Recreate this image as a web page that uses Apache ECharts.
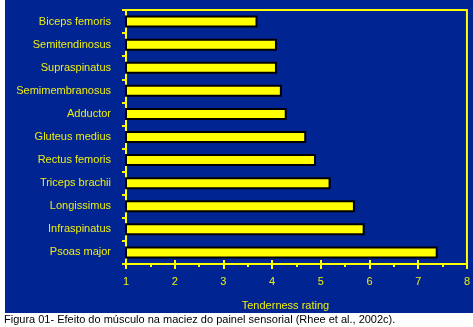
<!DOCTYPE html>
<html>
<head>
<meta charset="utf-8">
<script src="https://cdn.jsdelivr.net/npm/echarts@6/dist/echarts.min.js"></script>
<style>html,body{margin:0;padding:0;background:#fff;}#c{width:473px;height:327px;}</style>
</head>
<body>
<div id="c"></div>
<script>
const categories = ['Biceps femoris','Semitendinosus','Supraspinatus','Semimembranosus','Adductor','Gluteus medius','Rectus femoris','Triceps brachii','Longissimus','Infraspinatus','Psoas major'];
const ratings = [3.7, 4.1, 4.1, 4.2, 4.3, 4.7, 4.9, 5.2, 5.7, 5.9, 7.4];
const xTicks = [1, 2, 3, 4, 5, 6, 7, 8];
const axisName = 'Tenderness rating';
const caption = 'Figura 01- Efeito do músculo na maciez do painel sensorial (Rhee et al., 2002c).';

const YEL = '#ffff00', TXT = '#eeee10', BLUE = '#002491';
const chart = echarts.init(document.getElementById('c'), null, {renderer: 'canvas'});
chart.setOption({
  backgroundColor: '#ffffff',
  animation: false,
  graphic: [{type: 'rect', shape: {x: 5, y: 0, width: 468, height: 313}, style: {fill: BLUE}, z: -10, silent: true}],
  title: {text: caption, left: 4, top: 314, padding: 0,
    textStyle: {fontFamily: 'Liberation Sans', fontSize: 11, fontWeight: 'normal', color: '#000'}},
  grid: {left: 126, right: 4, top: 10, bottom: 63, show: true, borderColor: YEL, borderWidth: 2, backgroundColor: 'transparent'},
  xAxis: [{
    type: 'value', min: xTicks[0], max: xTicks[xTicks.length - 1], interval: 1,
    axisLine: {show: true, lineStyle: {color: YEL, width: 2}},
    axisTick: {show: true, length: 5, lineStyle: {color: YEL, width: 2}},
    minorTick: {show: true, splitNumber: 2, length: 3, lineStyle: {color: YEL, width: 2}},
    splitLine: {show: false},
    axisLabel: {color: TXT, fontFamily: 'Liberation Sans', fontSize: 11, margin: 12},
    name: axisName, nameLocation: 'middle', nameGap: 36,
    nameTextStyle: {color: TXT, fontFamily: 'Liberation Sans', fontSize: 11, padding: [0, 22, 0, 0]}
  }, {
    type: 'value', position: 'bottom', min: xTicks[0], max: xTicks[xTicks.length - 1], interval: 1,
    axisLine: {show: false},
    axisTick: {show: true, inside: true, length: 4, lineStyle: {color: YEL, width: 2}},
    splitLine: {show: false}, axisLabel: {show: false}
  }],
  yAxis: {
    type: 'category', data: categories, inverse: true,
    axisLine: {show: true, lineStyle: {color: YEL, width: 2}},
    axisTick: {show: true, length: 4, lineStyle: {color: YEL, width: 2}},
    axisLabel: {color: TXT, fontFamily: 'Liberation Sans', fontSize: 11, margin: 15}
  },
  series: [{
    type: 'bar', data: ratings, xAxisIndex: 0, barWidth: 12,
    itemStyle: {color: YEL, borderColor: '#000', borderWidth: 2}
  }]
});
</script>
</body>
</html>
